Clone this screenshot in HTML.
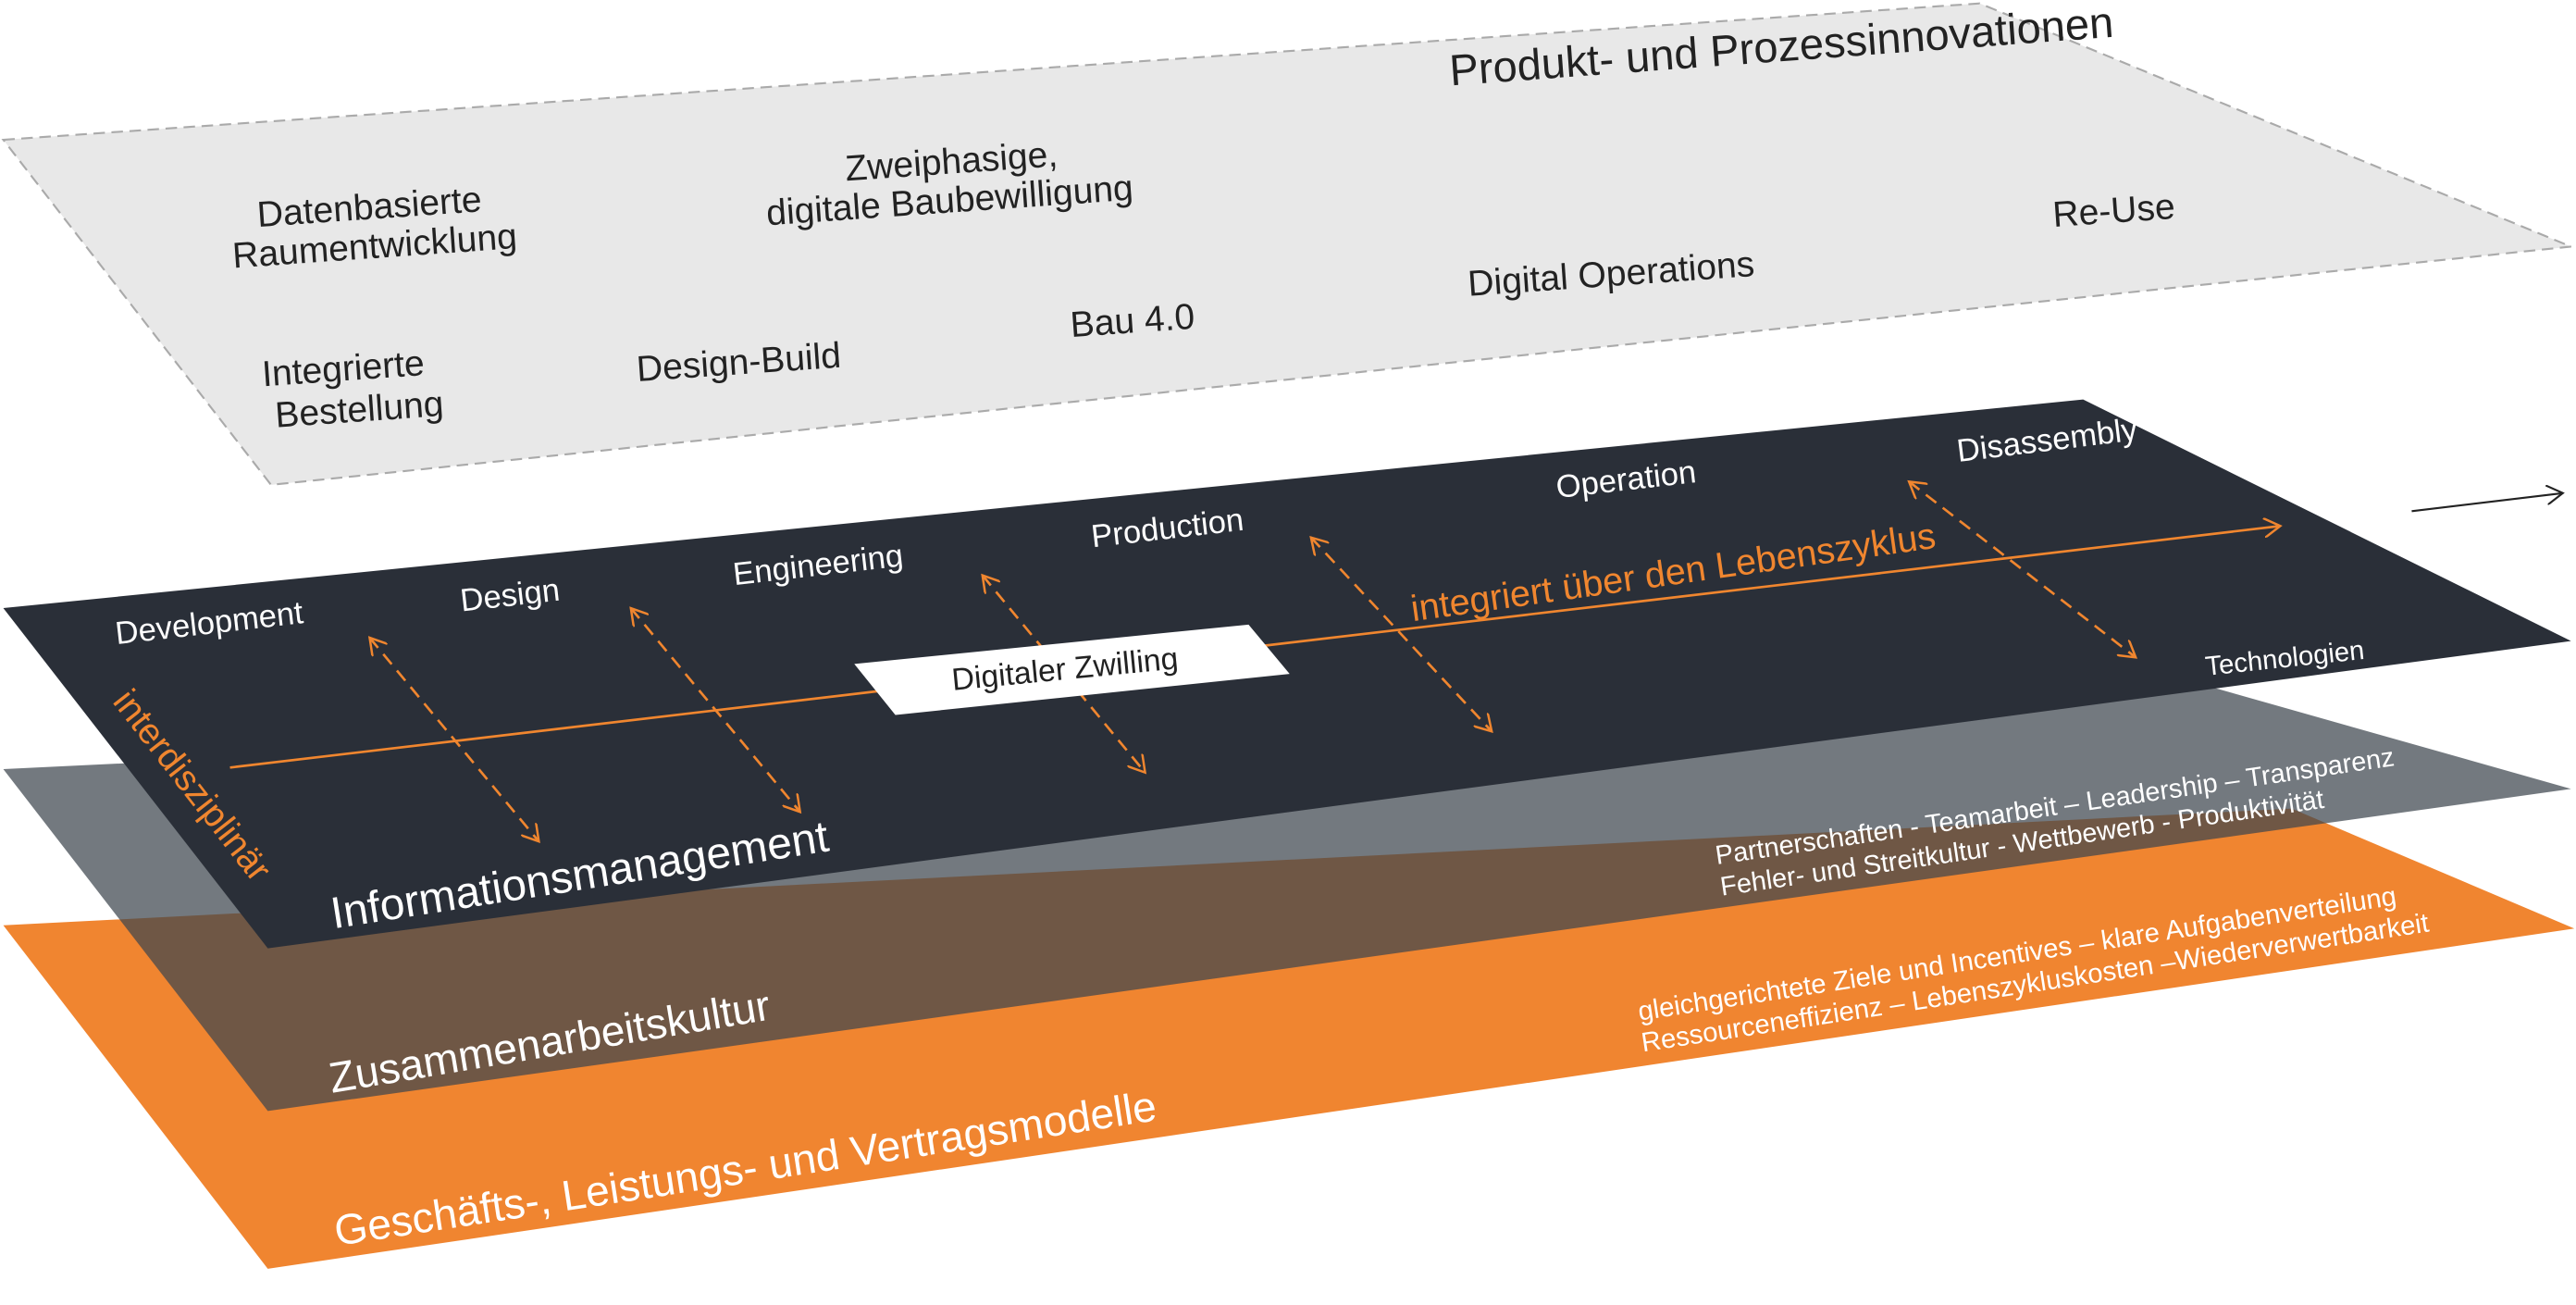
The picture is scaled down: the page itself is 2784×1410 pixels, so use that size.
<!DOCTYPE html>
<html><head><meta charset="utf-8"><style>
html,body{margin:0;padding:0;background:#fff;}
svg{display:block;}
text{font-family:"Liberation Sans",sans-serif;}
</style></head><body>
<svg width="2784" height="1410" viewBox="0 0 1568 794" xmlns="http://www.w3.org/2000/svg">
<defs>
<marker id="oa" markerWidth="12" markerHeight="12" refX="10" refY="6" orient="auto" markerUnits="userSpaceOnUse"><path d="M0,0 L10,6 L0,12" fill="none" stroke="#f0862f" stroke-width="1.4"/></marker>
<marker id="os" markerWidth="12" markerHeight="12" refX="10" refY="6" orient="auto-start-reverse" markerUnits="userSpaceOnUse"><path d="M0,0 L10,6 L0,12" fill="none" stroke="#f0862f" stroke-width="1.4"/></marker>
<marker id="ba" markerWidth="12" markerHeight="12" refX="10" refY="6" orient="auto" markerUnits="userSpaceOnUse"><path d="M0,0 L10,6 L0,12" fill="none" stroke="#222" stroke-width="1.2"/></marker>
</defs>
<polygon points="2,85 1205,2 1565,150 165,295" fill="#e8e8e8" stroke="#aaa" stroke-width="1.2" stroke-dasharray="7,4"/>
<g fill="#222" font-size="22">
<text x="883" y="52" font-size="26.5" transform="rotate(-4.2 883 52)">Produkt- und Prozessinnovationen</text>
<text x="157" y="138" transform="rotate(-4 157 138)">Datenbasierte</text>
<text x="142" y="163" transform="rotate(-4 142 163)">Raumentwicklung</text>
<text x="515" y="110" transform="rotate(-4 515 110)">Zweiphasige,</text>
<text x="467" y="137" transform="rotate(-4 467 137)">digitale Baubewilligung</text>
<text x="1250" y="138" transform="rotate(-4 1250 138)">Re-Use</text>
<text x="894" y="180" transform="rotate(-4 894 180)">Digital Operations</text>
<text x="652" y="205" transform="rotate(-4 652 205)">Bau 4.0</text>
<text x="388" y="232" transform="rotate(-4 388 232)">Design-Build</text>
<text x="160" y="235" transform="rotate(-4 160 235)">Integrierte</text>
<text x="168" y="260" transform="rotate(-4 168 260)">Bestellung</text>
</g>
<polygon points="2,563 1395,492 1567,565 163,772" fill="#f08530"/>
<polygon points="2,468 1300,405 1565,480 163,676" fill="#3d454e" fill-opacity="0.72"/>
<polygon points="2,370 1268,243 1565,390 163,577" fill="#2a2f38"/>
<line x1="140" y1="467" x2="1388" y2="320" stroke="#f0862f" stroke-width="1.5" marker-end="url(#oa)"/>
<g stroke="#f0862f" stroke-width="1.5" stroke-dasharray="8,5" fill="none">
<line x1="225" y1="388" x2="328" y2="512" marker-start="url(#os)" marker-end="url(#oa)"/>
<line x1="384" y1="370" x2="487" y2="494" marker-start="url(#os)" marker-end="url(#oa)"/>
<line x1="598" y1="350" x2="697" y2="470" marker-start="url(#os)" marker-end="url(#oa)"/>
<line x1="798" y1="327" x2="908" y2="445" marker-start="url(#os)" marker-end="url(#oa)"/>
<line x1="1162" y1="293" x2="1300" y2="400" marker-start="url(#os)" marker-end="url(#oa)"/>
</g>
<polygon points="520,404 760,380 785,410 545,435" fill="#fff"/>
<text x="580" y="420" font-size="19" fill="#222" transform="rotate(-5.5 580 420)">Digitaler Zwilling</text>
<g fill="#fff" font-size="19.5">
<text x="71" y="392" transform="rotate(-6.5 71 392)">Development</text>
<text x="281" y="372" transform="rotate(-6.5 281 372)">Design</text>
<text x="447" y="356" transform="rotate(-6.5 447 356)">Engineering</text>
<text x="665" y="333" transform="rotate(-6.5 665 333)">Production</text>
<text x="948" y="303" transform="rotate(-6.5 948 303)">Operation</text>
<text x="1192" y="281" transform="rotate(-7 1192 281)">Disassembly</text>
<text x="1343" y="411" font-size="16.5" transform="rotate(-6 1343 411)">Technologien</text>
<text x="203" y="565" font-size="27" transform="rotate(-8.9 203 565)">Informationsmanagement</text>
<text x="202" y="665" font-size="26" transform="rotate(-9.5 202 665)">Zusammenarbeitskultur</text>
<text x="205" y="758" font-size="26" transform="rotate(-8.7 205 758)">Geschäfts-, Leistungs- und Vertragsmodelle</text>
<text x="1045" y="526" font-size="16.3" transform="rotate(-8.3 1045 526)">Partnerschaften - Teamarbeit – Leadership – Transparenz</text>
<text x="1048" y="545" font-size="16.3" transform="rotate(-8.3 1048 545)">Fehler- und Streitkultur - Wettbewerb - Produktivität</text>
<text x="998" y="621" font-size="16.5" transform="rotate(-8.7 998 621)">gleichgerichtete Ziele und Incentives – klare Aufgabenverteilung</text>
<text x="1000" y="640" font-size="16.5" transform="rotate(-8.7 1000 640)">Ressourceneffizienz – Lebenszykluskosten –Wiederverwertbarkeit</text>
</g>
<text x="860" y="378" font-size="22.3" fill="#f0862f" transform="rotate(-8 860 378)">integriert über den Lebenszyklus</text>
<text x="68" y="427" font-size="22" fill="#f0862f" transform="rotate(52 68 427)">interdisziplinär</text>
<line x1="1468" y1="311" x2="1560" y2="300" stroke="#222" stroke-width="1.2" marker-end="url(#ba)"/>
</svg>
</body></html>
